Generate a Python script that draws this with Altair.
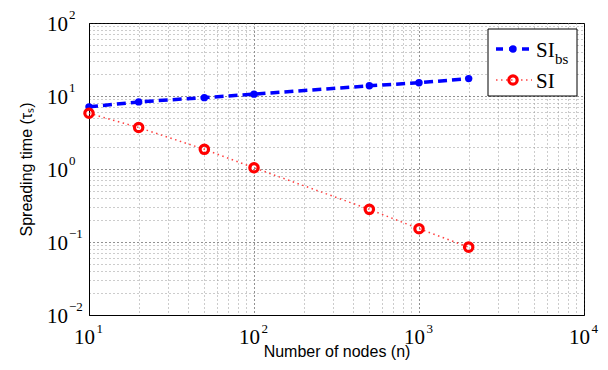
import altair as alt
import pandas as pd

# ---- data ----
nodes = [10, 20, 50, 100, 500, 1000, 2000]
si_bs = [7.1, 8.3, 9.5, 10.6, 13.8, 15.2, 17.3]
si = [5.8, 3.7, 1.86, 1.04, 0.28, 0.152, 0.085]

x_major = [10, 100, 1000, 10000]
y_major = [0.01, 0.1, 1, 10, 100]
x_exps = ["1", "2", "3", "4"]
y_exps = ["−2", "−1", "0", "1", "2"]

def with_minors(majors):
    vals = []
    for m in majors[:-1]:
        for k in range(1, 10):
            vals.append(round(m * k, 6))
    vals.append(majors[-1])
    return vals

x_vals = with_minors(x_major)
y_vals = with_minors(y_major)

is_major = "abs(log(datum.value)/LN10 - round(log(datum.value)/LN10)) < 1e-6"

df_bs = pd.DataFrame({"n": nodes, "t": si_bs})
df_si = pd.DataFrame({"n": nodes, "t": si})
df_xlab = pd.DataFrame({"n": x_major, "e": x_exps})
df_ylab = pd.DataFrame({"t": y_major, "e": y_exps})

serif = "Liberation Serif"
sans = "Liberation Sans"

x_scale = alt.Scale(type="log", domain=[10, 10000], nice=False)
y_scale = alt.Scale(type="log", domain=[0.01, 100], nice=False)

def grid_axis(vals, title, tpad):
    return alt.Axis(
        values=vals,
        labels=False,
        ticks=False,
        grid=True,
        gridDash=[1, 3],
        gridColor={"condition": {"test": is_major, "value": "#222222"}, "value": "#999999"},
        gridWidth=1,
        domainColor="black",
        domainWidth=1,
        title=title,
        titleFont=sans,
        titleFontSize=16,
        titleFontWeight="normal",
        titleColor="black",
        titlePadding=tpad,
    )

x_enc = alt.X("n:Q", scale=x_scale, axis=grid_axis(x_vals, "Number of nodes (n)", 28))
y_enc = alt.Y("t:Q", scale=y_scale, axis=grid_axis(y_vals, "Spreading time (τₛ)", 55))
x_plain = alt.X("n:Q", scale=x_scale)
y_plain = alt.Y("t:Q", scale=y_scale)

bs_line = alt.Chart(df_bs).mark_line(
    color="#0000ff", strokeWidth=3.5, strokeDash=[9, 5]
).encode(x=x_enc, y=y_enc)
bs_pts = alt.Chart(df_bs).mark_point(
    color="#0000ff", filled=True, size=55, opacity=1, shape="circle"
).encode(x=x_plain, y=y_plain)

si_line = alt.Chart(df_si).mark_line(
    color="#ff2020", strokeWidth=1.5, strokeDash=[1.5, 3.5], opacity=0.85
).encode(x=x_plain, y=y_plain)
si_pts = alt.Chart(df_si).mark_point(
    color="#ff0000", filled=False, size=70, strokeWidth=3.2, opacity=1, shape="circle"
).encode(x=x_plain, y=y_plain)

# ---- tick labels as 10 with a raised exponent ----
xl_base = alt.Chart(df_xlab).mark_text(
    text="10", font=serif, fontSize=21, align="right", baseline="alphabetic", color="black", dx=6
).encode(x=x_plain, y=alt.value(321))
xl_exp = alt.Chart(df_xlab).mark_text(
    font=serif, fontSize=13, align="left", baseline="alphabetic", color="black", dx=7.5
).encode(x=x_plain, y=alt.value(310), text="e:N")
yl_base = alt.Chart(df_ylab).mark_text(
    text="10", font=serif, fontSize=21, align="right", baseline="alphabetic", color="black", dy=8
).encode(x=alt.value(-21), y=y_plain)
yl_exp = alt.Chart(df_ylab).mark_text(
    font=serif, fontSize=13, align="left", baseline="alphabetic", color="black", dy=-4
).encode(x=alt.value(-20), y=y_plain, text="e:N")

# ---- manual legend (pixel positions inside the plot area) ----
one = pd.DataFrame({"a": [0]})
leg_box = alt.Chart(one).mark_rect(fill="white", stroke="black", strokeWidth=1).encode(
    x=alt.value(399), x2=alt.value(488), y=alt.value(6), y2=alt.value(73))
leg_bs_line = alt.Chart(one).mark_rule(color="#0000ff", strokeWidth=3.5, strokeDash=[7, 6]).encode(
    x=alt.value(407), x2=alt.value(443), y=alt.value(26))
leg_bs_pt = alt.Chart(one).mark_point(color="#0000ff", filled=True, size=55, opacity=1).encode(
    x=alt.value(424), y=alt.value(26))
leg_si_line = alt.Chart(one).mark_rule(color="#ff2020", strokeWidth=1.5, strokeDash=[1.5, 3.5], opacity=0.85).encode(
    x=alt.value(407), x2=alt.value(443), y=alt.value(57))
leg_si_pt = alt.Chart(one).mark_point(color="#ff0000", filled=False, size=70, strokeWidth=3.2, opacity=1).encode(
    x=alt.value(424), y=alt.value(57))
leg_t1 = alt.Chart(one).mark_text(text="SI", font=serif, fontSize=21, align="left", baseline="alphabetic", color="black").encode(
    x=alt.value(447), y=alt.value(34))
leg_t1s = alt.Chart(one).mark_text(text="bs", font=serif, fontSize=15, align="left", baseline="alphabetic", color="black").encode(
    x=alt.value(466), y=alt.value(41))
leg_t2 = alt.Chart(one).mark_text(text="SI", font=serif, fontSize=21, align="left", baseline="alphabetic", color="black").encode(
    x=alt.value(447), y=alt.value(65))

chart = alt.layer(
    bs_line, si_line, bs_pts, si_pts,
    xl_base, xl_exp, yl_base, yl_exp,
    leg_box, leg_bs_line, leg_bs_pt, leg_si_line, leg_si_pt, leg_t1, leg_t1s, leg_t2
).properties(
    width=495, height=292,
    autosize=alt.AutoSizeParams(type="none"),
    padding={"left": 81, "top": 15, "right": 16, "bottom": 47},
    background="white",
).configure_view(stroke="black", strokeWidth=1)

chart.save("out.html", embed_options={"renderer": "svg", "actions": False})
